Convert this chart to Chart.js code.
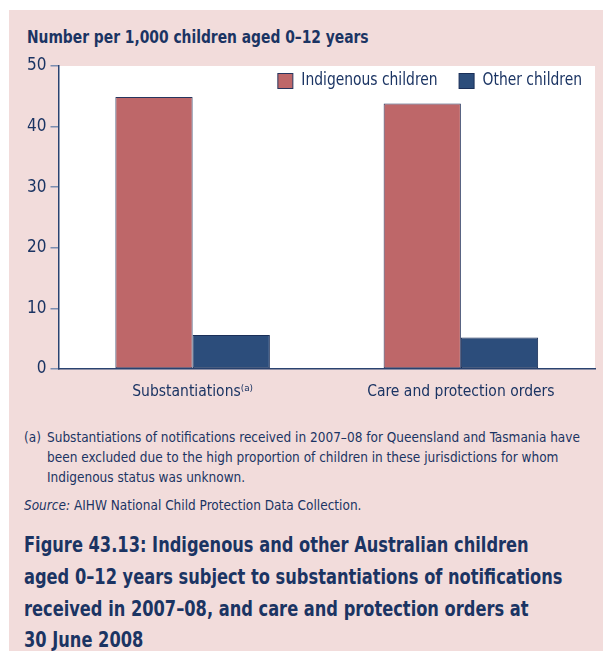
<!DOCTYPE html>
<html><head><meta charset="utf-8">
<script src="https://cdn.jsdelivr.net/npm/chart.js@4/dist/chart.umd.min.js"></script>
<style>
html,body{margin:0;padding:0;background:#fff;}
body{width:603px;height:651px;position:relative;overflow:hidden;font-family:"DejaVu Sans Condensed","Liberation Sans Narrow",sans-serif;color:#1B3463;}
#bg{position:absolute;left:9px;top:10px;right:0;bottom:0;background:#F2DCDB;}
.ln{position:absolute;white-space:nowrap;transform-origin:0 50%;}
#ytitle{left:27px;top:26px;font-weight:bold;font-size:18px;transform:scaleX(0.855);}
#wrap{position:absolute;left:0;top:0;width:603px;height:420px;}
.fn{font-size:14.5px;line-height:20px;transform:scaleX(0.93);}
.ft{font-weight:bold;font-size:21.5px;line-height:31px;left:24px;transform:scaleX(0.84);}
</style></head>
<body>
<div id="bg"></div>
<div id="ytitle" class="ln">Number per 1,000 children aged 0–12 years</div>
<div id="wrap"><canvas id="c" width="603" height="420"></canvas></div>

<div class="ln fn" style="left:24px;top:427px;">(a)</div>
<div class="ln fn" style="left:47px;top:427px;">Substantiations of notifications received in 2007–08 for Queensland and Tasmania have</div>
<div class="ln fn" style="left:47px;top:447px;">been excluded due to the high proportion of children in these jurisdictions for whom</div>
<div class="ln fn" style="left:47px;top:467px;">Indigenous status was unknown.</div>
<div class="ln fn" style="left:24px;top:495px;"><i>Source:</i> AIHW National Child Protection Data Collection.</div>

<div class="ln ft" style="top:529px;">Figure 43.13: Indigenous and other Australian children</div>
<div class="ln ft" style="top:561px;">aged 0–12 years subject to substantiations of notifications</div>
<div class="ln ft" style="top:593px;">received in 2007–08, and care and protection orders at</div>
<div class="ln ft" style="top:624px;">30 June 2008</div>
<script>
const categories = ["Substantiations⁽ᵃ⁾", "Care and protection orders"];
const seriesNames = ["Indigenous children", "Other children"];
const indigenous = [44.9, 43.8];
const other = [5.6, 5.2];
const yTicks = [0, 10, 20, 30, 40, 50];

const FONT = '"DejaVu Sans Condensed","Liberation Sans Narrow",sans-serif';
const NAVY = '#1B3463';
const fills = ['#BE6769', '#2C4D7B'];
const borders = ['#27355E', '#1A2F58'];

const bgPlugin = {
  id: 'bgPlugin',
  beforeDraw(chart) {
    const {ctx, chartArea: a} = chart;
    ctx.save();
    ctx.fillStyle = '#FFFFFF';
    ctx.fillRect(a.left, a.top, a.right - a.left, a.bottom - a.top);
    ctx.restore();
  },
  afterDraw(chart) {
    const {ctx, chartArea: a} = chart;
    ctx.save();
    ctx.font = '17px ' + FONT;
    ctx.textBaseline = 'middle';
    const sx = 0.907;
    const box = 16, gapText = 8, gapItem = 21;
    const ds = chart.data.datasets;
    const tw = ds.map(d => ctx.measureText(d.label).width * sx);
    const widths = tw.map(w => box + gapText + w);
    const total = widths.reduce((s, w) => s + w, 0) + gapItem * (ds.length - 1);
    let x = a.right - 13 - total;
    const y = 81;
    ds.forEach((d, i) => {
      ctx.fillStyle = d.backgroundColor;
      ctx.fillRect(x + 0.5, y - box / 2 + 0.5, box - 1, box - 1);
      ctx.strokeStyle = d.borderColor;
      ctx.lineWidth = 1;
      ctx.strokeRect(x + 0.5, y - box / 2 + 0.5, box - 1, box - 1);
      ctx.save();
      ctx.translate(x + box + gapText, y);
      ctx.scale(sx, 1);
      ctx.fillStyle = NAVY;
      ctx.textAlign = 'left';
      ctx.fillText(d.label, 0, 0);
      ctx.restore();
      x += widths[i] + gapItem;
    });
    ctx.restore();
  }
};

new Chart(document.getElementById('c'), {
  type: 'bar',
  data: {
    labels: categories,
    datasets: [
      {label: seriesNames[0], data: indigenous, backgroundColor: fills[0], borderColor: borders[0], borderWidth: 1, borderSkipped: false},
      {label: seriesNames[1], data: other, backgroundColor: fills[1], borderColor: borders[1], borderWidth: 1, borderSkipped: false}
    ]
  },
  options: {
    responsive: false,
    animation: false,
    events: [],
    layout: {padding: {left: 0, right: 8, top: 66, bottom: 0}},
    plugins: {legend: {display: false}, tooltip: {enabled: false}, title: {display: false}},
    datasets: {bar: {barPercentage: 1.0, categoryPercentage: 0.576}},
    scales: {
      x: {
        grid: {display: false, drawTicks: false},
        border: {display: true, color: '#2A4370', width: 1.5},
        ticks: {color: NAVY, font: {family: FONT, size: 15.5}, padding: 14, maxRotation: 0},
        afterFit(s) { s.height = 420 - 369; }
      },
      y: {
        min: 0, max: 50,
        afterBuildTicks(s) { s.ticks = yTicks.map(v => ({value: v})); },
        grid: {drawOnChartArea: false, drawTicks: true, tickLength: 8, color: '#7A8DB0', lineWidth: 1.5},
        border: {display: true, color: '#2A4370', width: 1.5},
        ticks: {color: NAVY, font: {family: FONT, size: 17}, padding: 4},
        afterFit(s) { s.width = 58.5; }
      }
    }
  },
  plugins: [bgPlugin]
});
</script>
</body></html>
